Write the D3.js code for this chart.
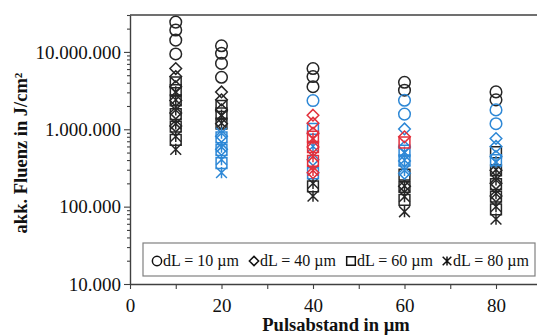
<!DOCTYPE html>
<html lang="de">
<head>
<meta charset="UTF-8">
<title>Akkumulierte Fluenz</title>
<script src="https://d3js.org/d3.v7.min.js"></script>
<style>
  body { margin: 0; background: #fff; }
  svg { display: block; font-family: "Liberation Serif", "Times New Roman", serif; }
</style>
</head>
<body>
<svg width="537" height="336"></svg>
<script>
// Pulsabstand (x) und akkumulierte Fluenz je Linienabstand dL
const pulseSpacing = [10, 20, 40, 60, 80];

const fluenceDL10 = [
  [2.43e7, 1.92e7, 1.42e7, 9.4e6],
  [1.2e7, 9.6e6, 7.1e6, 4.7e6],
  [6.1e6, 4.8e6, 3.55e6, 2.35e6],
  [4.05e6, 3.2e6, 2.37e6, 1.57e6],
  [3.04e6, 2.4e6, 1.78e6, 1.18e6]
];
const fluenceDL40 = [
  [6.1e6, 4.8e6, 3.55e6, 2.35e6, 1.62e6, 1.1e6],
  [3.04e6, 2.4e6, 1.78e6, 1.18e6, 8.1e5, 5.5e5],
  [1.52e6, 1.2e6, 8.9e5, 5.9e5, 4.05e5, 2.75e5],
  [1.01e6, 8.0e5, 5.9e5, 3.9e5, 2.7e5, 1.83e5],
  [7.6e5, 6.0e5, 4.45e5, 2.95e5, 2.0e5, 1.37e5]
];
const fluenceDL60 = [
  [4.05e6, 3.2e6, 2.37e6, 1.57e6, 1.08e6, 7.3e5],
  [2.0e6, 1.6e6, 1.18e6, 7.85e5, 5.4e5, 3.65e5],
  [1.01e6, 8.0e5, 5.9e5, 3.9e5, 2.7e5, 1.83e5],
  [6.75e5, 5.3e5, 3.95e5, 2.6e5, 1.8e5, 1.22e5],
  [5.05e5, 4.0e5, 2.95e5, 1.96e5, 1.35e5, 9.2e4]
];
const fluenceDL80 = [
  [3.04e6, 2.4e6, 1.78e6, 1.18e6, 8.1e5, 5.5e5],
  [1.52e6, 1.2e6, 8.9e5, 5.9e5, 4.05e5, 2.75e5],
  [7.6e5, 6.0e5, 4.45e5, 2.95e5, 2.0e5, 1.37e5],
  [5.05e5, 4.0e5, 2.95e5, 1.85e5, 1.35e5, 8.6e4],
  [3.8e5, 3.0e5, 2.22e5, 1.47e5, 1.0e5, 6.9e4]
];

// Klasse je Punkt: 0 = schwarz, 1 = blau, 2 = rot
const classDL10 = [
  [0, 0, 0, 0],
  [0, 0, 0, 0],
  [0, 0, 0, 1],
  [0, 0, 1, 1],
  [0, 0, 1, 1]
];
const classDL40 = [
  [0, 0, 0, 0, 0, 0],
  [0, 0, 0, 0, 1, 1],
  [2, 2, 2, 2, 1, 2],
  [1, 2, 1, 1, 1, 0],
  [1, 1, 1, 0, 0, 0]
];
const classDL60 = [
  [0, 0, 0, 0, 0, 0],
  [0, 0, 0, 1, 1, 1],
  [1, 2, 2, 2, 1, 0],
  [2, 1, 1, 0, 0, 0],
  [0, 1, 0, 0, 0, 0]
];
const classDL80 = [
  [0, 0, 0, 0, 0, 0],
  [0, 0, 1, 1, 1, 1],
  [2, 1, 2, 2, 0, 0],
  [1, 1, 1, 0, 0, 0],
  [1, 0, 0, 0, 0, 0]
];

const seriesLabels = ["dL = 10 µm", "dL = 40 µm", "dL = 60 µm", "dL = 80 µm"];
const xTickValues = [0, 10, 20, 30, 40, 50, 60, 70, 80];
const xLabelValues = [0, 20, 40, 60, 80];
const yTickValues = [1e4, 1e5, 1e6, 1e7];

const series = [
  {label: seriesLabels[0], shape: "circle", values: fluenceDL10, classes: classDL10},
  {label: seriesLabels[1], shape: "diamond", values: fluenceDL40, classes: classDL40},
  {label: seriesLabels[2], shape: "square", values: fluenceDL60, classes: classDL60},
  {label: seriesLabels[3], shape: "star", values: fluenceDL80, classes: classDL80}
];

const svg = d3.select("svg");
const color = d3.scaleOrdinal().domain([0, 1, 2]).range(["#262626", "#2e88d6", "#e2303c"]);

const x = d3.scaleLinear().domain([0, 90]).range([130, 541.75]);
const y = d3.scaleLog().domain([1e4, 3e7]).range([284, 15]);

const de = d3.formatLocale({decimal: ",", thousands: ".", grouping: [3], currency: ["", " €"]});
const fmt = de.format(",d");

// marker paths
function shapePath(shape, s) {
  if (shape === "circle") return d3.symbol(d3.symbolCircle, Math.PI * s * s)();
  if (shape === "square") return `M${-s},${-s}H${s}V${s}H${-s}Z`;
  if (shape === "diamond") return `M0,${-s}L${s},0L0,${s}L${-s},0Z`;
  return `M${-s},${-s}L${s},${s}M${-s},${s}L${s},${-s}M0,${-s * 1.05}V${s * 1.05}`;
}
const markerSize = {circle: 5.8, square: 5.4, diamond: 5.8, star: 5.4};

// frame lines
const axisColor = "#404040";
svg.append("line")
  .attr("x1", x(0)).attr("x2", x(90))
  .attr("y1", y(3e7)).attr("y2", y(3e7))
  .attr("stroke", axisColor).attr("stroke-width", 1.4);

// y axis
const yAxis = svg.append("g").attr("transform", `translate(${x(0)},0)`)
  .call(d3.axisLeft(y).tickValues(yTickValues).tickFormat(fmt).tickSize(6).tickSizeOuter(0).tickPadding(3));
const yMinor = svg.append("g").attr("transform", `translate(${x(0)},0)`)
  .call(d3.axisLeft(y).tickValues(y.ticks().filter(t => yTickValues.indexOf(t) < 0)).tickFormat("").tickSize(3).tickSizeOuter(0));
yMinor.select(".domain").remove();

// x axis
const xAxis = svg.append("g").attr("transform", `translate(0,${y(1e4)})`)
  .call(d3.axisBottom(x).tickValues(xTickValues)
    .tickFormat(d => xLabelValues.includes(d) ? d : "")
    .tickSize(5).tickSizeOuter(0).tickPadding(10));

[yAxis, yMinor, xAxis].forEach(g => {
  g.select(".domain").attr("stroke", axisColor).attr("stroke-width", 1.4);
  g.selectAll(".tick line").attr("stroke", axisColor).attr("stroke-width", 1.1);
  g.selectAll(".tick text")
    .attr("font-family", "Liberation Serif, Times New Roman, serif")
    .attr("font-size", 19).attr("fill", "#111");
});

// titles
svg.append("text")
  .attr("transform", `translate(27,153) rotate(-90)`)
  .attr("text-anchor", "middle")
  .attr("font-weight", "bold").attr("font-size", 18.5).attr("fill", "#111")
  .text("akk. Fluenz in J/cm²");
svg.append("text")
  .attr("x", 336).attr("y", 331)
  .attr("text-anchor", "middle")
  .attr("font-weight", "bold").attr("font-size", 18.5).attr("fill", "#111")
  .text("Pulsabstand in µm");

// points
const points = [];
series.forEach((s, si) => {
  s.values.forEach((row, i) => {
    row.forEach((v, j) => {
      points.push({si: si, shape: s.shape, px: pulseSpacing[i], v: v, cls: s.classes[i][j]});
    });
  });
});
points.sort((a, b) => a.cls - b.cls);

svg.append("g").selectAll("path")
  .data(points)
  .join("path")
  .attr("transform", d => `translate(${x(d.px)},${y(d.v)})`)
  .attr("d", d => shapePath(d.shape, markerSize[d.shape]))
  .attr("fill", "none")
  .attr("stroke", d => color(d.cls))
  .attr("stroke-width", 1.5);

// legend
const legend = svg.append("g");
legend.append("rect")
  .attr("x", 143).attr("y", 243).attr("width", 392).attr("height", 33)
  .attr("fill", "#fff").attr("stroke", "#808080").attr("stroke-width", 1.2);
const legendMarkerX = [157, 254, 351, 447];
series.forEach((s, i) => {
  legend.append("path")
    .attr("transform", `translate(${legendMarkerX[i]},261)`)
    .attr("d", shapePath(s.shape, markerSize[s.shape] * 0.8))
    .attr("fill", "none").attr("stroke", "#111").attr("stroke-width", 1.5);
  legend.append("text")
    .attr("x", legendMarkerX[i] + 6).attr("y", 266)
    .attr("font-size", 16).attr("fill", "#111")
    .text(s.label);
});
</script>
</body>
</html>
